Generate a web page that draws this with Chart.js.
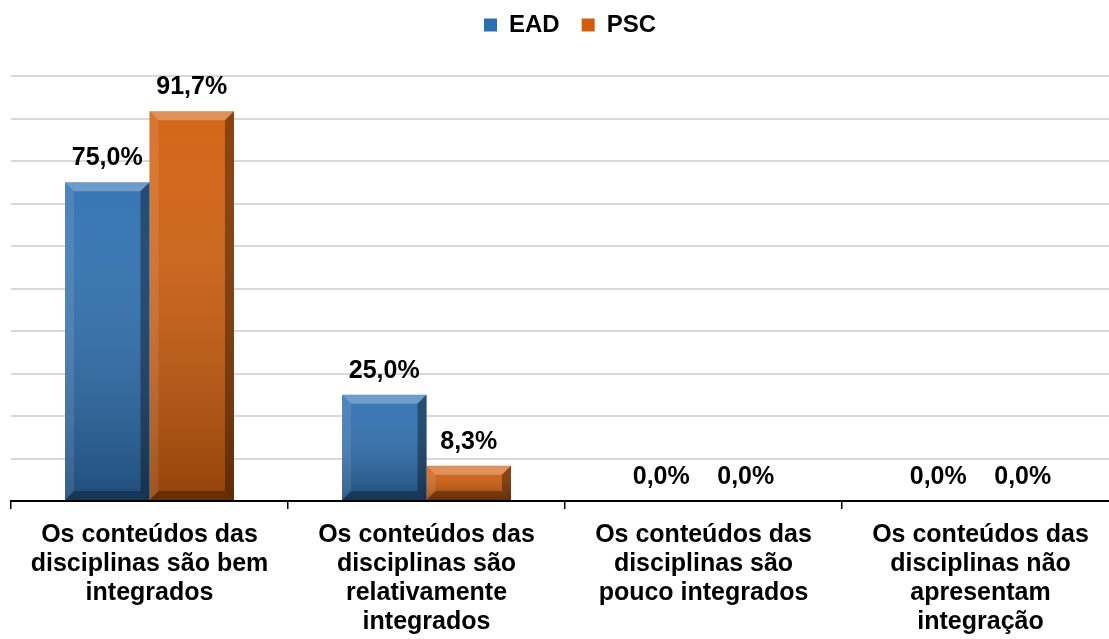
<!DOCTYPE html>
<html>
<head>
<meta charset="utf-8">
<script src="https://cdn.jsdelivr.net/npm/chart.js@4/dist/chart.umd.min.js"></script>
<style>
  html, body { margin: 0; padding: 0; background: #fff; overflow: hidden; width: 1109px; height: 639px; }
  #wrap { position: absolute; left: 0; top: 0; width: 1130px; height: 639px; }
</style>
</head>
<body>
<div id="wrap"><canvas id="c" width="1130" height="639"></canvas></div>
<script>
const categories = [
  ["Os conteúdos das", "disciplinas são bem", "integrados"],
  ["Os conteúdos das", "disciplinas são", "relativamente", "integrados"],
  ["Os conteúdos das", "disciplinas são", "pouco integrados"],
  ["Os conteúdos das", "disciplinas não", "apresentam", "integração"]
];
const seriesNames = ["EAD", "PSC"];
const eadValues = [75.0, 25.0, 0.0, 0.0];
const pscValues = [91.7, 8.3, 0.0, 0.0];
const seriesColors = ["#2C6FB0", "#D25E0C"];

const FONT = "'Liberation Sans', Arial, sans-serif";

const legendMargin = {
  id: 'legendMargin',
  beforeInit(chart) {
    const origFit = chart.legend.fit;
    chart.legend.fit = function () {
      origFit.bind(chart.legend)();
      this.height += 16;
    };
  },
  afterLayout(chart) {
    const lg = chart.legend;
    lg.top -= 13; lg.bottom -= 13;
    lg.left += 5; lg.right += 5;
  }
};

const bevelPlugin = {
  id: 'bevel',
  afterDatasetDraw(chart, args) {
    const ctx = chart.ctx;
    const meta = args.meta;
    meta.data.forEach(el => {
      const p = el.getProps(['x', 'y', 'base', 'width'], true);
      const l = p.x - p.width / 2, r = p.x + p.width / 2;
      const t = Math.min(p.y, p.base), b = Math.max(p.y, p.base);
      const h = b - t;
      if (h < 1) return;
      const bv = Math.min(9, h / 2, p.width / 2);
      ctx.save();
      const g = ctx.createLinearGradient(0, t, 0, b);
      g.addColorStop(0, 'rgba(255,255,255,0.05)');
      g.addColorStop(1, 'rgba(0,0,0,0.30)');
      ctx.fillStyle = g;
      ctx.fillRect(l, t, r - l, h);
      ctx.fillStyle = 'rgba(255,255,255,0.28)';
      ctx.beginPath(); ctx.moveTo(l, t); ctx.lineTo(r, t); ctx.lineTo(r - bv, t + bv); ctx.lineTo(l + bv, t + bv); ctx.closePath(); ctx.fill();
      ctx.fillStyle = 'rgba(255,255,255,0.10)';
      ctx.beginPath(); ctx.moveTo(l, t); ctx.lineTo(l + bv, t + bv); ctx.lineTo(l + bv, b - bv); ctx.lineTo(l, b); ctx.closePath(); ctx.fill();
      ctx.fillStyle = 'rgba(0,0,0,0.35)';
      ctx.beginPath(); ctx.moveTo(r, t); ctx.lineTo(r - bv, t + bv); ctx.lineTo(r - bv, b - bv); ctx.lineTo(r, b); ctx.closePath(); ctx.fill();
      ctx.fillStyle = 'rgba(0,0,0,0.30)';
      ctx.beginPath(); ctx.moveTo(l, b); ctx.lineTo(r, b); ctx.lineTo(r - bv, b - bv); ctx.lineTo(l + bv, b - bv); ctx.closePath(); ctx.fill();
      ctx.restore();
    });
  }
};

const valueLabels = {
  id: 'valueLabels',
  afterDatasetsDraw(chart) {
    const ctx = chart.ctx;
    ctx.save();
    ctx.font = "bold 25px " + FONT;
    ctx.fillStyle = '#000';
    ctx.textAlign = 'center';
    ctx.textBaseline = 'alphabetic';
    chart.data.datasets.forEach((ds, i) => {
      const meta = chart.getDatasetMeta(i);
      meta.data.forEach((el, j) => {
        const v = ds.data[j];
        const txt = v.toFixed(1).replace('.', ',') + '%';
        ctx.fillText(txt, el.x, el.y - 17);
      });
    });
    ctx.restore();
  }
};

new Chart(document.getElementById('c'), {
  type: 'bar',
  data: {
    labels: categories,
    datasets: [
      { label: seriesNames[0], data: eadValues, backgroundColor: seriesColors[0], borderWidth: 0 },
      { label: seriesNames[1], data: pscValues, backgroundColor: seriesColors[1], borderWidth: 0 }
    ]
  },
  options: {
    responsive: false,
    animation: false,
    devicePixelRatio: 1,
    layout: { padding: { left: 11, right: 11, top: 4, bottom: 2 } },
    datasets: { bar: { categoryPercentage: 0.61, barPercentage: 1.0 } },
    plugins: {
      legend: {
        position: 'top',
        align: 'center',
        labels: {
          boxWidth: 13, boxHeight: 13, padding: 22,
          color: '#000',
          font: { family: FONT, size: 24, weight: 'bold' }
        }
      },
      tooltip: { enabled: false }
    },
    scales: {
      x: {
        grid: { display: true, drawOnChartArea: false, drawTicks: true, tickLength: 8, color: '#000', lineWidth: 1.5, offset: true },
        border: { display: true, color: '#000', width: 2 },
        ticks: {
          color: '#000', padding: 12, maxRotation: 0, autoSkip: false,
          font: { family: FONT, size: 25, weight: 'bold', lineHeight: '29px' }
        },
        afterFit(axis) { axis.height = 136; }
      },
      y: {
        min: 0, max: 100,
        ticks: { display: false, stepSize: 10 },
        grid: { color: '#d9d9d9', lineWidth: 2, drawTicks: false },
        border: { display: false },
        afterFit(axis) { axis.width = 0; }
      }
    }
  },
  plugins: [legendMargin, bevelPlugin, valueLabels]
});
</script>
</body>
</html>
